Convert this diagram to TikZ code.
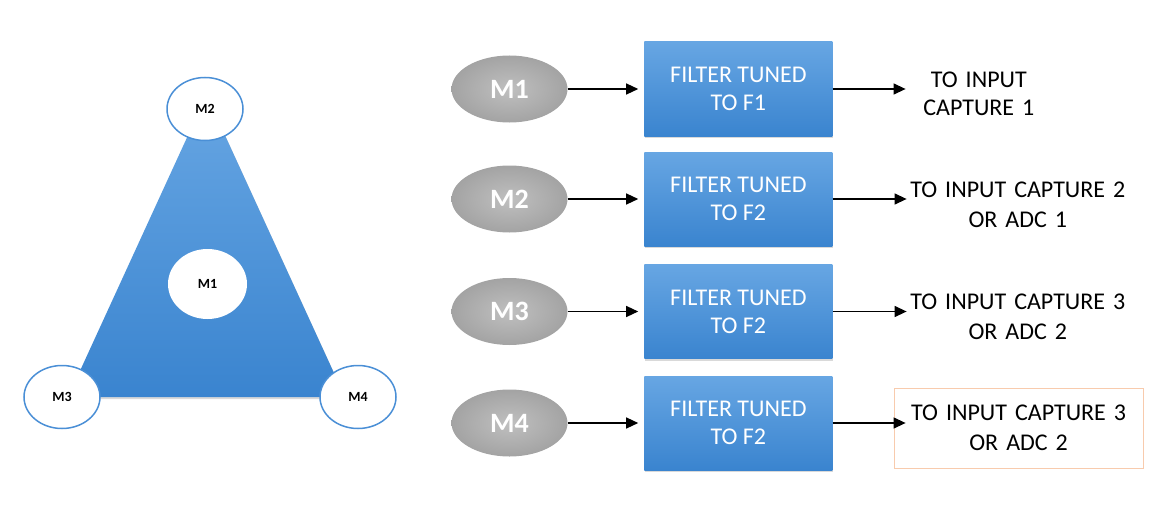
\documentclass[tikz,border=0pt]{standalone}
\usepackage{fontspec}
\setmainfont{Carlito}
\usetikzlibrary{shapes,positioning,arrows.meta,shadows}
\definecolor{boxtop}{HTML}{67A6E3}
\definecolor{boxbot}{HTML}{3A84CF}
\definecolor{ringblue}{HTML}{4A8FD6}
\definecolor{peach}{HTML}{F8CBAD}
\tikzset{mic/.style={ellipse,minimum width=116pt,minimum height=67pt,inner sep=0pt,inner color=gray!50,outer color=gray!72,text=white,font=\bfseries\fontsize{28}{30}\selectfont}}
\tikzset{filterbox/.style={rectangle,minimum width=188pt,minimum height=94pt,inner sep=0pt,top color=boxtop,bottom color=boxbot,text=white,align=center,font=\fontsize{24}{28}\selectfont,drop shadow={opacity=0.3,shadow xshift=1pt,shadow yshift=-2pt}}}
\tikzset{dest/.style={align=center,inner sep=0pt,text width=222pt,font=\fontsize{24}{30}\selectfont}}
\tikzset{spot/.style={ellipse,draw=ringblue,line width=1.5pt,fill=white,minimum width=76pt,minimum height=63pt,inner sep=0pt,font=\bfseries\fontsize{14}{16}\selectfont}}
\tikzset{link/.style={-{Triangle[length=12pt,width=11pt]},line width=1.3pt}}

\begin{document}
\begin{tikzpicture}[x=1pt,y=1pt]
        \useasboundingbox (0,0) rectangle (1154,-527);
        % triangle of microphones
        \path[top color=boxtop,bottom color=boxbot,drop shadow={opacity=0.3,shadow xshift=1pt,shadow yshift=-2pt}] (68,-397) -- (206.5,-95) -- (345,-397) -- cycle;
        \node[spot] (tm2) at (205,-109) {M2};
        \node[spot,draw=none,minimum width=79pt,minimum height=70pt] (tm1) at (207.5,-284) {M1};
        \node[spot] (tm3) at (62,-397) {M3};
        \node[spot] (tm4) at (358,-397) {M4};

        % signal chains
        \node[mic] (m1) at (509.5,-89) {M1};
        \node[filterbox,right=76.5pt of m1] (f1) {FILTER TUNED\\TO F1};
        \node[dest,text width=146pt,font=\fontsize{24}{28}\selectfont,right=73pt of f1,yshift=-5pt] (o1) {TO INPUT\\CAPTURE 1};

        \node[mic] (m2) at (509.5,-199) {M2};
        \node[filterbox,right=76.5pt of m2] (f2) {FILTER TUNED\\TO F2};
        \node[dest,right=74pt of f2,yshift=-5.5pt] (o2) {TO INPUT CAPTURE 2\\OR ADC 1};

        \node[mic] (m3) at (509.5,-311.5) {M3};
        \node[filterbox,right=76.5pt of m3] (f3) {FILTER TUNED\\TO F2};
        \node[dest,right=74pt of f3,yshift=-5.5pt] (o3) {TO INPUT CAPTURE 3\\OR ADC 2};

        \node[mic] (m4) at (509.5,-423) {M4};
        \node[filterbox,right=76.5pt of m4] (f4) {FILTER TUNED\\TO F2};
        \node[dest,draw=peach,line width=1pt,text width=249pt,minimum height=80pt,right=61pt of f4,yshift=-5pt] (o4) {TO INPUT CAPTURE 3\\OR ADC 2};

        \draw[link,shorten >=6pt] (m1) -- (f1);
        \draw[link] (f1.east) -- (f1.east -| o1.west);
        \draw[link,shorten >=6pt] (m2) -- (f2);
        \draw[link] (f2.east) -- (f2.east -| o2.west);
        \draw[link,shorten >=6pt] (m3) -- (f3);
        \draw[link] (f3.east) -- (f3.east -| o3.west);
        \draw[link,shorten >=6pt] (m4) -- (f4);
        \draw[link] (f4.east) -- ([xshift=12pt]f4.east -| o4.west);
    \end{tikzpicture}
\end{document}
